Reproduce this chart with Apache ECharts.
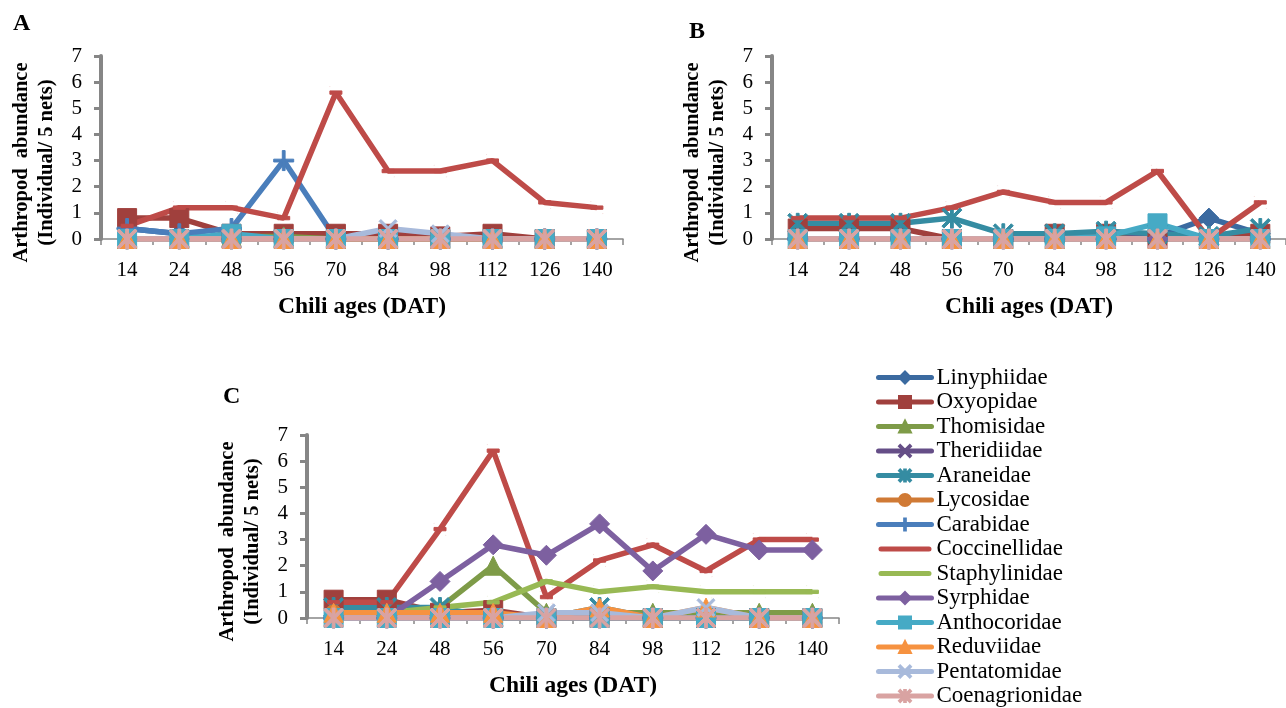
<!DOCTYPE html>
<html>
<head>
<meta charset="utf-8">
<script src="https://cdn.jsdelivr.net/npm/echarts@6/dist/echarts.min.js"></script>
<style>
html,body{margin:0;padding:0;background:#fff;}
#chart{width:1286px;height:708px;}
</style>
</head>
<body>
<div id="chart"></div>
<script>
const categories = ['14','24','48','56','70','84','98','112','126','140'];
const families = ['Linyphiidae','Oxyopidae','Thomisidae','Theridiidae','Araneidae','Lycosidae','Carabidae','Coccinellidae','Staphylinidae','Syrphidae','Anthocoridae','Reduviidae','Pentatomidae','Coenagrionidae'];
const panelLetters = ['A','B','C'];
const yTicks = [0,1,2,3,4,5,6,7];

// Panel A values (rows follow families order)
const valuesA = [
  [0.4,0.2,0,0,0,0,0,0,0,0],
  [0.8,0.8,0.2,0.2,0.2,0.2,0.1,0.2,0,0],
  [0,0,0.1,0.1,0,0,0,0,0,0],
  [0,0,0,0,0,0,0,0,0,0],
  [0,0,0,0,0,0,0,0,0,0],
  [0,0,0,0,0,0,0,0,0,0],
  [0.4,0.2,0.4,3.0,0,0,0,0,0,0],
  [0.5,1.2,1.2,0.8,5.6,2.6,2.6,3.0,1.4,1.2],
  [0,0,0,0,0,0,0,0,0,0],
  [0,0,0,0,0,0,0,0,0,0],
  [0,0,0.2,0,0,0,0,0,0,0],
  [0,0,0,0,0,0,0,0,0,0],
  [0,0,0,0,0,0.4,0.2,0,0,0],
  [0,0,0,0,0,0,0,0,0,0]
];
// Panel B values
const valuesB = [
  [0,0,0,0,0,0,0,0.1,0.8,0.2],
  [0.4,0.4,0.4,0,0,0.2,0.2,0,0,0.2],
  [0,0,0,0,0,0,0,0.2,0,0],
  [0,0,0,0,0,0,0,0.1,0,0],
  [0.6,0.6,0.6,0.8,0.2,0.2,0.3,0.2,0.1,0.4],
  [0,0,0,0,0,0,0,0,0,0],
  [0,0,0,0,0,0,0,0,0,0],
  [0.8,0.8,0.8,1.2,1.8,1.4,1.4,2.6,0,1.4],
  [0,0,0,0,0,0,0,0,0,0],
  [0,0,0,0,0,0,0,0,0,0],
  [0,0,0,0,0,0,0.1,0.6,0,0],
  [0,0,0,0,0,0,0,0,0,0],
  [0,0,0,0,0,0,0,0,0,0],
  [0,0,0,0,0,0,0,0,0,0]
];
// Panel C values
const valuesC = [
  [0,0,0,0,0,0,0,0,0,0],
  [0.7,0.7,0.2,0.3,0,0,0,0,0,0],
  [0.2,0.2,0.4,2.0,0.2,0.2,0.2,0.2,0.2,0.2],
  [0,0,0,0,0,0,0,0,0,0],
  [0.4,0.4,0.4,0,0,0.4,0,0,0,0],
  [0.2,0,0,0,0,0,0,0,0,0],
  [0,0,0,0,0,0,0,0,0,0],
  [0.6,0.6,3.4,6.4,0.8,2.2,2.8,1.8,3.0,3.0],
  [0.2,0.2,0.4,0.6,1.4,1.0,1.2,1.0,1.0,1.0],
  [0,0,1.4,2.8,2.4,3.6,1.8,3.2,2.6,2.6],
  [0,0,0,0,0,0,0,0,0,0],
  [0.2,0.2,0.2,0.2,0,0.4,0,0.4,0,0],
  [0,0,0,0,0.2,0.2,0,0.4,0,0],
  [0,0,0,0,0,0,0,0,0,0]
];
const panels = [valuesA, valuesB, valuesC];

const colors = ['#3B6AA0','#A0403D','#7E9B48','#654E87','#358CA2','#D07A35','#4A7EBB','#BE4B48','#98B954','#7D60A0','#46AAC5','#F69240','#A8BADB','#D9A3A2'];
const X_PATH = 'path://M0,1 L1,0 L5,4 L9,0 L10,1 L6,5 L10,9 L9,10 L5,6 L1,10 L0,9 L4,5 Z';
const STAR_PATH = 'path://M0,1 L1,0 L5,4 L9,0 L10,1 L6,5 L10,9 L9,10 L5,6 L1,10 L0,9 L4,5 Z M4.3,0 L5.7,0 L5.7,10 L4.3,10 Z';
const PLUS_PATH = 'path://M4.3,0 L5.7,0 L5.7,4.3 L10,4.3 L10,5.7 L5.7,5.7 L5.7,10 L4.3,10 L4.3,5.7 L0,5.7 L0,4.3 L4.3,4.3 Z';
const DASH_PATH = 'path://M0,0 L0.05,0 L0,0.05 Z M10,10 L9.95,10 L10,9.95 Z M0,3.6 L10,3.6 L10,6.4 L0,6.4 Z';
const LINE_ICON = 'path://M0,0 L0.01,0 L0,0.01 Z M53,15 L52.99,15 L53,14.99 Z M2.5,5 L50.5,5 A2.5,2.5 0 0 1 50.5,10 L2.5,10 A2.5,2.5 0 0 1 2.5,5 Z';
const symbols = ['diamond','rect','triangle',X_PATH,STAR_PATH,'circle',PLUS_PATH,DASH_PATH,DASH_PATH,'diamond','rect','triangle',X_PATH,STAR_PATH];
const symbolSizes = [20,19,19,18,20,16,20,12,12,20,19,19,18,20];

const FONT = 'Liberation Serif';
const grids = [
  {left:101, top:56, width:522, height:183},
  {left:772, top:56, width:523, height:183},
  {left:307, top:435, width:532, height:183}
];
const letterPos = [[13,12],[689,20],[223,385]];

const xAxes = grids.map((g,i)=>({
  type:'category', gridIndex:i, data:categories, boundaryGap:true,
  axisLine:{lineStyle:{color:'#868686', width:1.5}},
  axisTick:{show:true, length:6, lineStyle:{color:'#868686', width:1.5}},
  axisLabel:{color:'#000', fontFamily:FONT, fontSize:21, margin:21, interval:0},
  name:'Chili ages (DAT)', nameLocation:'middle', nameGap:56,
  nameTextStyle:{color:'#000', fontFamily:FONT, fontSize:23.5, fontWeight:'bold'}
}));
const yAxes = grids.map((g,i)=>({
  type:'value', gridIndex:i, min:0, max:7, interval:1,
  axisLine:{show:true, lineStyle:{color:'#868686', width:4}},
  axisTick:{show:true, length:7, lineStyle:{color:'#868686', width:3}},
  splitLine:{show:false},
  axisLabel:{color:'#000', fontFamily:FONT, fontSize:21, margin:19,
    formatter:(v)=> yTicks.indexOf(v) >= 0 ? String(v) : ''},
  name:'Arthropod  abundance\n(Individual/ 5 nets)', nameLocation:'middle', nameGap:42,
  nameTextStyle:{color:'#000', fontFamily:FONT, fontSize:20.5, fontWeight:'bold', lineHeight:25, padding:[0,30,0,0]}
}));

const series = [];
panels.forEach((vals, p)=>{
  vals.forEach((row, k)=>{
    series.push({
      type:'line', name:families[k], xAxisIndex:p, yAxisIndex:p,
      data:row,
      symbol:symbols[k], symbolSize:symbolSizes[k], showAllSymbol:true,
      lineStyle:{color:colors[k], width:5.5},
      itemStyle:{color:colors[k], borderColor:colors[k], borderWidth:1},
      emphasis:{disabled:true},
      animation:false, silent:true
    });
  });
});

const legendData = families.map((f,k)=> symbols[k] === DASH_PATH
  ? {name:f, icon:LINE_ICON, itemStyle:{color:colors[k], borderWidth:0}}
  : {name:f});

const chart = echarts.init(document.getElementById('chart'), null, {renderer:'canvas'});
chart.setOption({
  backgroundColor:'#fff',
  animation:false,
  grid:grids.map(g=>Object.assign({containLabel:false}, g)),
  xAxis:xAxes,
  yAxis:yAxes,
  legend:{
    data:legendData, orient:'vertical', left:876, top:366, height:360, padding:0,
    itemWidth:53, itemHeight:15, itemGap:1.5, selectedMode:false,
    lineStyle:{width:5, cap:'round'},
    textStyle:{color:'#000', fontFamily:FONT, fontSize:23, lineHeight:23}
  },
  graphic:panelLetters.map((t,i)=>({
    type:'text', left:letterPos[i][0], top:letterPos[i][1],
    style:{text:t, font:'bold 24px "Liberation Serif"', fill:'#000'}
  })),
  series:series
});
</script>
</body>
</html>
